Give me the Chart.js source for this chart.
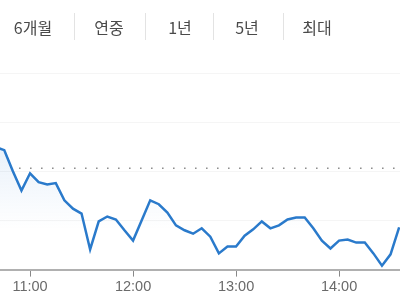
<!DOCTYPE html>
<html>
<head>
<meta charset="utf-8">
<script src="https://cdn.jsdelivr.net/npm/chart.js@4"></script>
<style>
  html, body { margin: 0; padding: 0; background: #fff; }
  #wrap { position: relative; width: 400px; height: 300px; overflow: hidden; }
  #chart { position: absolute; left: 0; top: 0; }
  .tab { position: absolute; top: 17px; width: 60px; text-align: center;
         font: 16px "Noto Sans CJK KR", "Noto Sans", sans-serif; color: #4a4a4a; line-height: 20px; }
  .sep { position: absolute; top: 13px; width: 1px; height: 27px; background: #e3e3e3; }
</style>
</head>
<body>
<div id="wrap">
  <canvas id="chart" width="400" height="300"></canvas>
</div>
<script>
// 기간 탭
const tabLabels = ['6개월', '연중', '1년', '5년', '최대'];
const tabCenters = [33, 109, 180, 247, 317];
const sepX = [74, 145, 213, 283];

// 시간 (분 단위, 0시 기준) / 가격
const times = [640, 645, 650, 655, 660, 665, 670, 675, 680, 685, 690, 695, 700, 705, 710,
  715, 720, 725, 730, 735, 740, 745, 750, 755, 760, 765, 770, 775, 780, 785, 790, 795,
  800, 805, 810, 815, 820, 825, 830, 835, 840, 845, 850, 855, 860, 865, 870, 875];
const prices = [102.49, 102.43, 102.00, 101.61, 101.96, 101.78, 101.73, 101.76, 101.41, 101.24,
  101.14, 100.41, 100.98, 101.08, 101.02, 100.80, 100.59, 101.00, 101.41, 101.33, 101.16,
  100.90, 100.80, 100.73, 100.84, 100.67, 100.33, 100.47, 100.47, 100.69, 100.82, 100.98,
  100.84, 100.90, 101.02, 101.06, 101.06, 100.84, 100.59, 100.43, 100.59, 100.61, 100.55,
  100.55, 100.33, 100.08, 100.31, 100.86];
const prevClose = 102.06;
const hourTicks = [660, 720, 780, 840];

const wrap = document.getElementById('wrap');
tabLabels.forEach((t, i) => {
  const d = document.createElement('div');
  d.className = 'tab';
  d.textContent = t;
  d.style.left = (tabCenters[i] - 30) + 'px';
  wrap.appendChild(d);
});
sepX.forEach(x => {
  const s = document.createElement('div');
  s.className = 'sep';
  s.style.left = x + 'px';
  wrap.appendChild(s);
});

const xMin = 642.5, xMax = 875.5;
const ctx = document.getElementById('chart').getContext('2d');

new Chart(ctx, {
  type: 'line',
  data: {
    datasets: [{
      data: times.map((t, i) => ({ x: t, y: prices[i] })),
      borderColor: '#2a7acb',
      borderWidth: 2.5,
      pointRadius: 0,
      tension: 0,
      fill: 'start',
      backgroundColor: (c) => {
        const area = c.chart.chartArea;
        if (!area) return 'transparent';
        const g = c.chart.ctx.createLinearGradient(0, area.top + 70, 0, area.bottom - 40);
        g.addColorStop(0, 'rgba(45,125,210,0.11)');
        g.addColorStop(1, 'rgba(45,125,210,0)');
        return g;
      }
    }, {
      data: [{ x: 653.6, y: prevClose }, { x: xMax, y: prevClose }],
      borderColor: '#888',
      borderWidth: 1.5,
      borderDash: [1.5, 9.5],
      pointRadius: 0,
      fill: false
    }]
  },
  options: {
    responsive: false,
    animation: false,
    layout: { padding: { top: 73, left: 0, right: 0, bottom: 2 } },
    plugins: { legend: { display: false }, tooltip: { enabled: false } },
    scales: {
      x: {
        type: 'linear',
        min: xMin,
        max: xMax,
        afterBuildTicks: (s) => { s.ticks = hourTicks.map(v => ({ value: v })); },
        grid: { display: true, drawOnChartArea: false, drawTicks: true, tickLength: 7, color: '#888' },
        border: { display: true, color: '#b0b0b0', width: 2 },
        ticks: {
          autoSkip: false,
          maxRotation: 0,
          padding: 2,
          color: '#6a6a6a',
          font: { family: 'Arial, "Liberation Sans", sans-serif', size: 14.5 },
          callback: (v) => Math.floor(v / 60) + ':' + String(v % 60).padStart(2, '0')
        }
      },
      y: {
        min: 100,
        max: 104,
        afterBuildTicks: (s) => { s.ticks = [100, 101, 102, 103, 104].map(v => ({ value: v })); },
        grid: { display: true, drawTicks: false, color: '#f5f5f5' },
        border: { display: false },
        ticks: { display: false }
      }
    }
  }
});
</script>
</body>
</html>
